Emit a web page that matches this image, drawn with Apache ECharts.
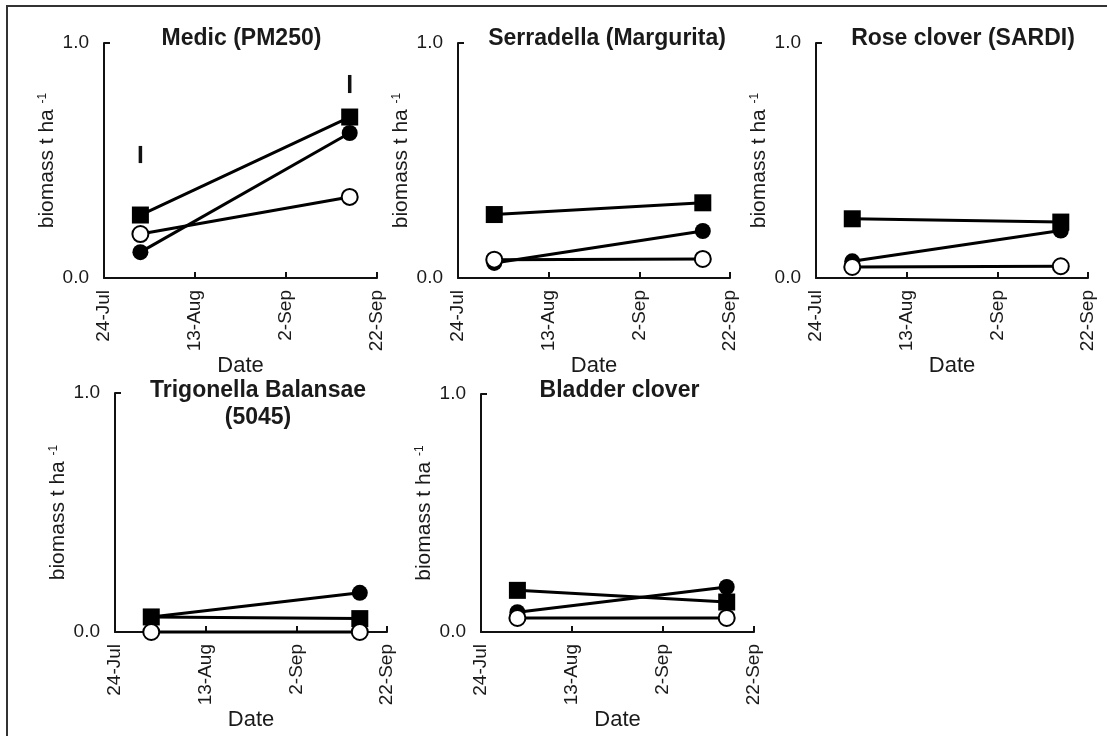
<!DOCTYPE html>
<html>
<head>
<meta charset="utf-8">
<script src="https://cdn.jsdelivr.net/npm/echarts@6/dist/echarts.min.js"></script>
<style>
	body { margin: 0; background: #fff; }
	#chart { width: 1107px; height: 736px; }
</style>
</head>
<body>
<div id="chart"></div>
<script>
// dates (two sampling dates)
const sampleDates = ["1-Aug", "16-Sep"];
const tickLabels = ["24-Jul", "13-Aug", "2-Sep", "22-Sep"];

const panelTitles = ["Medic (PM250)", "Serradella (Margurita)", "Rose clover (SARDI)", "Trigonella Balansae\n(5045)", "Bladder clover"];

// biomass t/ha, one array per marker type and panel
const squareMedic = [0.268, 0.685];
const filledMedic = [0.11, 0.617];
const openMedic = [0.187, 0.345];

const squareSerradella = [0.27, 0.32];
const filledSerradella = [0.064, 0.2];
const openSerradella = [0.078, 0.081];

const squareRose = [0.252, 0.238];
const filledRose = [0.071, 0.202];
const openRose = [0.047, 0.05];

const squareTrigonella = [0.063, 0.056];
const filledTrigonella = [0.063, 0.164];
const openTrigonella = [0.0, 0.0];

const squareBladder = [0.175, 0.126];
const filledBladder = [0.083, 0.189];
const openBladder = [0.059, 0.059];

// LSD bars (Medic only)
const lsdLow = [0.489, 0.787];
const lsdHigh = [0.562, 0.864];

const squareSets = [squareMedic, squareSerradella, squareRose, squareTrigonella, squareBladder];
const filledSets = [filledMedic, filledSerradella, filledRose, filledTrigonella, filledBladder];
const openSets = [openMedic, openSerradella, openRose, openTrigonella, openBladder];

// grid boxes in pixels
const grids = [
	{ left: 104, top: 43, width: 273, height: 235 },
	{ left: 458, top: 43, width: 272, height: 235 },
	{ left: 816, top: 43, width: 272, height: 235 },
	{ left: 115, top: 393, width: 272, height: 239 },
	{ left: 481, top: 394, width: 273, height: 238 },
];
// small shifts of the titles from the grid centre
const titleShift = [-4, 8, 6, 2, -3];

const months = { Jul: 6, Aug: 7, Sep: 8 };
function dayOffset(s) {
	const p = s.split("-");
	const t = Date.UTC(2000, months[p[1]], parseInt(p[0]));
	return Math.round((t - Date.UTC(2000, 6, 24)) / 86400000);
}
const xDays = sampleDates.map(dayOffset);

const txt = "#1a1a1a";
const xAxes = [], yAxes = [], titles = [], series = [];

grids.forEach((g, i) => {
	xAxes.push({
		gridIndex: i,
		type: "value",
		min: 0,
		max: 60,
		interval: 20,
		name: "Date",
		nameLocation: "middle",
		nameGap: 68,
		nameTextStyle: { fontFamily: "Liberation Sans", fontSize: 22, color: txt },
		axisLine: { lineStyle: { color: "#111", width: 2 } },
		axisTick: { inside: true, length: 6, lineStyle: { color: "#111", width: 2 } },
		splitLine: { show: false },
		axisLabel: {
			rotate: 90,
			margin: 12,
			fontFamily: "Liberation Sans",
			fontSize: 19,
			color: txt,
			formatter: (v) => tickLabels[Math.round(v / 20)],
		},
	});
	yAxes.push({
		gridIndex: i,
		type: "value",
		min: 0,
		max: 1,
		interval: 1,
		name: "biomass t ha {sup|-1}",
		nameLocation: "middle",
		nameGap: 46,
		nameTextStyle: {
			fontFamily: "Liberation Sans",
			fontSize: 21,
			color: txt,
			rich: { sup: { fontFamily: "Liberation Sans", fontSize: 12, color: txt, verticalAlign: "top" } },
		},
		axisLine: { show: true, lineStyle: { color: "#111", width: 2 } },
		axisTick: { show: true, inside: true, length: 6, lineStyle: { color: "#111", width: 2 } },
		splitLine: { show: false },
		axisLabel: {
			margin: 15,
			fontFamily: "Liberation Sans",
			fontSize: 19,
			color: txt,
			formatter: (v) => v.toFixed(1),
		},
	});
	titles.push({
		text: panelTitles[i],
		left: g.left + g.width / 2 + titleShift[i],
		top: i < 3 ? 20 : 372,
		textAlign: "center",
		textStyle: { fontFamily: "Liberation Sans", fontWeight: "bold", fontSize: 23, lineHeight: 27, color: txt },
	});

	const mk = (vals) => xDays.map((d, k) => [d, vals[k]]);
	const line = { color: "#000", width: 3 };
	series.push({
		name: "square",
		type: "line",
		xAxisIndex: i,
		yAxisIndex: i,
		data: mk(squareSets[i]),
		symbol: "rect",
		symbolSize: 17,
		clip: false,
		lineStyle: line,
		itemStyle: { color: "#000" },
		z: 3,
	});
	series.push({
		name: "filled circle",
		type: "line",
		xAxisIndex: i,
		yAxisIndex: i,
		data: mk(filledSets[i]),
		symbol: "circle",
		symbolSize: 16,
		clip: false,
		lineStyle: line,
		itemStyle: { color: "#000" },
		z: 4,
	});
	series.push({
		name: "open circle",
		type: "line",
		xAxisIndex: i,
		yAxisIndex: i,
		data: mk(openSets[i]),
		symbol: "circle",
		symbolSize: 16,
		showAllSymbol: true,
		clip: false,
		lineStyle: line,
		itemStyle: { color: "#fff", borderColor: "#000", borderWidth: 2 },
		z: 5,
	});
});

// LSD bars on the Medic panel
series.push({
	name: "LSD",
	type: "custom",
	xAxisIndex: 0,
	yAxisIndex: 0,
	data: xDays.map((d, k) => [d, lsdLow[k], lsdHigh[k]]),
	encode: { x: 0, y: [1, 2] },
	renderItem: function (params, api) {
		const a = api.coord([api.value(0), api.value(2)]);
		const b = api.coord([api.value(0), api.value(1)]);
		return {
			type: "line",
			shape: { x1: a[0], y1: a[1], x2: b[0], y2: b[1] },
			style: { stroke: "#111", lineWidth: 3.5 },
		};
	},
	z: 6,
});

const chart = echarts.init(document.getElementById("chart"));
chart.setOption({
	backgroundColor: "#fff",
	animation: false,
	title: titles,
	grid: grids,
	xAxis: xAxes,
	yAxis: yAxes,
	series: series,
	graphic: [
		{
			type: "polyline",
			shape: { points: [[7, 740], [7, 6], [1110, 6]] },
			style: { stroke: "#333", lineWidth: 2, fill: null },
			silent: true,
		},
	],
});
</script>
</body>
</html>
